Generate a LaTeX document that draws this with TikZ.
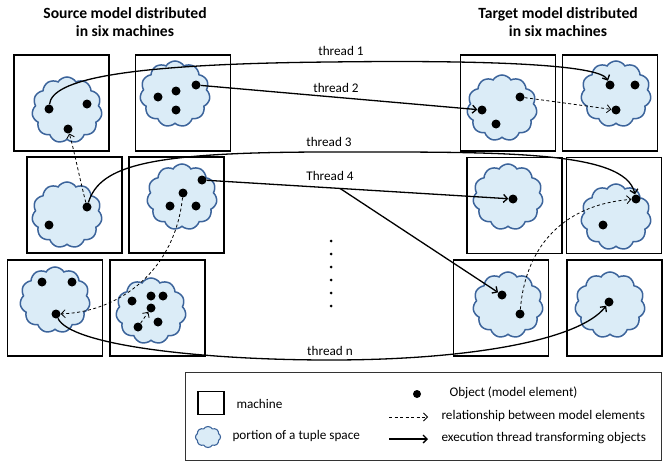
\documentclass[tikz,border=0pt]{standalone}
\usepackage{fontspec}
\setmainfont{Carlito}
\usetikzlibrary{shapes.symbols,arrows.meta}
\definecolor{spacefill}{RGB}{219,236,247}
\definecolor{spaceedge}{RGB}{60,100,155}

\begin{document}
\begin{tikzpicture}[x=1pt,y=-1pt,
	machine/.style={draw, line width=1.8pt, minimum width=95pt, minimum height=96pt, inner sep=0pt},
	tspace/.style={cloud, cloud puffs=11, cloud puff arc=115, cloud ignores aspect, draw=spaceedge, fill=spacefill, line width=1.5pt, minimum width=70pt, minimum height=66pt, inner sep=0pt},
	obj/.style={circle, fill, inner sep=0pt, minimum size=9pt},
	thread/.style={line width=1.3pt, -{Straight Barb[length=4pt,width=8pt]}},
	rel/.style={line width=0.8pt, dash pattern=on 3pt off 2.5pt, -{Straight Barb[length=4pt,width=8pt]}},
	lbl/.style={font=\fontsize{13.2}{15}\selectfont},
	title/.style={font=\fontsize{15.6}{18}\selectfont\bfseries, align=center}]
	\useasboundingbox (0,0) rectangle (663,463);

	\node[title] (src) at (125,22) {Source model distributed\\in six machines};
	\node[title] (tgt) at (558,22) {Target model distributed\\in six machines};

	% machines
	\node[machine] (mA) at (61.5,103) {};
	\node[machine] (mB) at (183,103) {};
	\node[machine] (mC) at (74.5,205) {};
	\node[machine] (mD) at (176.5,205) {};
	\node[machine] (mE) at (55,308) {};
	\node[machine] (mF) at (157.5,308) {};
	\node[machine] (mG) at (508,103) {};
	\node[machine] (mH) at (610,103) {};
	\node[machine] (mI) at (514.5,205.5) {};
	\node[machine] (mJ) at (614,205.5) {};
	\node[machine] (mK) at (501,308) {};
	\node[machine] (mL) at (614.5,308) {};

	% tuple space portions
	\node[tspace] (sA) at (67,110) {};
	\node[tspace] (sB) at (175,94) {};
	\node[tspace] (sC) at (67,215) {};
	\node[tspace] (sD) at (182,197) {};
	\node[tspace] (sE) at (55,300) {};
	\node[tspace] (sF) at (151,311) {};
	\node[tspace] (sG) at (502,108) {};
	\node[tspace] (sH) at (616,94) {};
	\node[tspace] (sI) at (508,197) {};
	\node[tspace] (sJ) at (616,217) {};
	\node[tspace] (sK) at (508,305) {};
	\node[tspace] (sL) at (610,305) {};

	% objects
	\node[obj] (a1) at (49,109) {};
	\node[obj] (a2) at (87,104) {};
	\node[obj] (a3) at (68,129) {};
	\node[obj] (b1) at (158,97) {};
	\node[obj] (b2) at (176,91) {};
	\node[obj] (b3) at (196,85) {};
	\node[obj] (b4) at (176,110) {};
	\node[obj] (c1) at (87,207) {};
	\node[obj] (c2) at (49,225) {};
	\node[obj] (d1) at (202,180) {};
	\node[obj] (d2) at (183,193) {};
	\node[obj] (d3) at (170,206) {};
	\node[obj] (d4) at (196,206) {};
	\node[obj] (e1) at (42,282) {};
	\node[obj] (e2) at (72,282) {};
	\node[obj] (e3) at (56,314) {};
	\node[obj] (f1) at (132,301) {};
	\node[obj] (f2) at (151,296) {};
	\node[obj] (f3) at (163,296) {};
	\node[obj] (f4) at (151,308) {};
	\node[obj] (f5) at (158,322) {};
	\node[obj] (f6) at (138,327) {};
	\node[obj] (g1) at (482,110) {};
	\node[obj] (g2) at (520,97) {};
	\node[obj] (g3) at (496,124) {};
	\node[obj] (h1) at (610,85) {};
	\node[obj] (h2) at (635,85) {};
	\node[obj] (h3) at (616,110) {};
	\node[obj] (i1) at (513,199) {};
	\node[obj] (j1) at (636,199) {};
	\node[obj] (j2) at (603,225) {};
	\node[obj] (k1) at (502,295) {};
	\node[obj] (k2) at (520,314) {};
	\node[obj] (l1) at (609,302) {};

	% relationships
	\draw[rel] (c1) .. controls (80,180) and (74,150) .. (a3);
	\draw[rel] (d2) .. controls (175,270) and (120,312) .. (e3);
	\draw[rel] (f6) -- (f4);
	\draw[rel] (g2) -- (h3);
	\draw[rel] (k2) .. controls (525,250) and (560,205) .. (j1);

	% threads
	\draw[thread] (a1) .. controls (52,80) and (120,64) .. (330,62) .. controls (480,60) and (600,64) .. (h1);
	\draw[thread] (b3) -- (g1);
	\draw[thread] (c1) .. controls (100,165) and (150,152) .. (330,152) .. controls (500,152) and (625,150) .. (j1);
	\draw[thread] (d1) -- (i1);
	\coordinate (br) at (340,188.4);
	\draw[thread] (br) -- (k1);
	\draw[thread] (e3) .. controls (70,345) and (200,360) .. (330,360) .. controls (470,360) and (580,340) .. (l1);

	\node[lbl] (t1) at (341,51) {thread 1};
	\node[lbl] (t2) at (336,88) {thread 2};
	\node[lbl] (t3) at (329,142) {thread 3};
	\node[lbl] (t4) at (330,176) {Thread 4};
	\node[lbl] (tn) at (330,351) {thread n};

	\foreach \y in {241,254,267,280,293,306}
		\fill (331,\y) circle (1.5pt);

	% legend
	\node[draw=black!80, line width=0.9pt, minimum width=476pt, minimum height=88pt, inner sep=0pt] (legend) at (423,416) {};
	\node[draw, line width=1.8pt, minimum width=26pt, minimum height=23pt, inner sep=0pt] (lm) at (211,403) {};
	\node[lbl, anchor=west] (lmt) at (233,404) {machine};
	\node[tspace, cloud puffs=8, minimum width=25pt, minimum height=21pt, line width=1.1pt] (ls) at (208,437) {};
	\node[lbl, anchor=west] (lst) at (229,436) {portion of a tuple space};
	\node[obj, minimum size=8pt] (lo) at (417,394) {};
	\node[lbl, anchor=west] (lot) at (446,393) {Object (model element)};
	\coordinate (lr1) at (389,417);
	\coordinate (lr2) at (428,417);
	\draw[rel] (lr1) -- (lr2);
	\node[lbl, anchor=west] (lrt) at (438,416) {relationship between model elements};
	\coordinate (le1) at (389,439);
	\coordinate (le2) at (428,439);
	\draw[thread] (le1) -- (le2);
	\node[lbl, anchor=west] (let) at (438,438) {execution thread transforming objects};
\end{tikzpicture}
\end{document}
